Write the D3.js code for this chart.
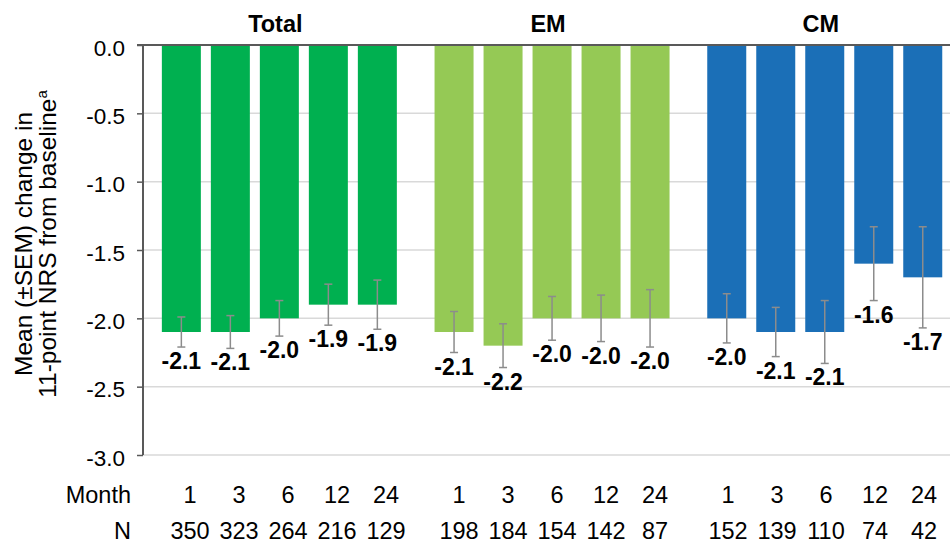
<!DOCTYPE html>
<html>
<head>
<meta charset="utf-8">
<script src="https://cdn.jsdelivr.net/npm/d3@7"></script>
<style>
  html, body { margin: 0; padding: 0; background: #ffffff; }
  svg { display: block; font-family: "Liberation Sans", Arial, sans-serif; }
</style>
</head>
<body>
<svg id="chart" width="950" height="545"></svg>
<script>
// Mean (±SEM) change from baseline in 11-point NRS, by group and month
const groups = ["Total", "EM", "CM"];
const months = ["1", "3", "6", "12", "24"];

const totalMean = [-2.1, -2.1, -2.0, -1.9, -1.9];
const totalSem  = [0.11, 0.12, 0.13, 0.15, 0.18];
const emMean    = [-2.1, -2.2, -2.0, -2.0, -2.0];
const emSem     = [0.15, 0.16, 0.16, 0.17, 0.21];
const cmMean    = [-2.0, -2.1, -2.1, -1.6, -1.7];
const cmSem     = [0.18, 0.18, 0.23, 0.27, 0.37];

const totalN = [350, 323, 264, 216, 129];
const emN    = [198, 184, 154, 142, 87];
const cmN    = [152, 139, 110, 74, 42];

const yTicks = [0, -0.5, -1.0, -1.5, -2.0, -2.5, -3.0];
const groupColors = ["#00b050", "#95c955", "#1b6fb7"];

const series = [
  { group: "Total", mean: totalMean, sem: totalSem, n: totalN },
  { group: "EM",    mean: emMean,    sem: emSem,    n: emN },
  { group: "CM",    mean: cmMean,    sem: cmSem,    n: cmN }
];

const svg = d3.select("#chart");
const axisX = 143, plotTop = 45, plotBottom = 455, plotRight = 950;

const y = d3.scaleLinear().domain([0, -3]).range([plotTop, plotBottom]);

// group bands for the bars
const groupStep = 272.7, groupGap = 37.7;
const x0 = d3.scaleBand().domain(groups)
  .range([axisX, axisX + 3 * groupStep])
  .paddingInner(groupGap / groupStep)
  .paddingOuter(groupGap / groupStep / 2);
const x1 = d3.scaleBand().domain(months)
  .range([0, x0.bandwidth()])
  .paddingInner(10 / 49);

// group bands for the Month / N table under the chart
const tStep = 269, tGap = 34;
const tx0 = d3.scaleBand().domain(groups)
  .range([170.5 - tGap / 2, 170.5 - tGap / 2 + 3 * tStep])
  .paddingInner(tGap / tStep)
  .paddingOuter(tGap / tStep / 2);
const tx1 = d3.scaleBand().domain(months)
  .range([0, tx0.bandwidth()])
  .paddingInner(10 / 49);

// gridlines
svg.append("g").selectAll("line")
  .data(yTicks.filter(d => d !== 0))
  .join("line")
  .attr("x1", axisX).attr("x2", plotRight)
  .attr("y1", d => y(d)).attr("y2", d => y(d))
  .attr("stroke", "#d9d9d9").attr("stroke-width", 1.5);

// y axis
const yAxis = d3.axisLeft(y).tickValues(yTicks).tickFormat(d3.format(".1f")).tickSize(6).tickPadding(12);
const yg = svg.append("g").attr("transform", `translate(${axisX},0)`).call(yAxis);
yg.select(".domain").remove();
yg.selectAll(".tick line").attr("stroke", "#595959").attr("stroke-width", 1.5);
yg.selectAll(".tick text")
  .attr("font-size", 22.5).attr("fill", "#000").attr("dy", "0.45em")
  .text(d => d3.format(".1f")(d).replace("−", "-"));

// bars
const barG = svg.append("g");
series.forEach((s, gi) => {
  const gx = x0(s.group);
  const rows = months.map((m, i) => ({ m, v: s.mean[i], e: s.sem[i] }));
  barG.append("g").selectAll("rect")
    .data(rows).join("rect")
    .attr("x", d => gx + x1(d.m))
    .attr("width", x1.bandwidth())
    .attr("y", y(0))
    .attr("height", d => y(d.v) - y(0))
    .attr("fill", groupColors[gi]);
});

// error bars and value labels
const errG = svg.append("g");
const labG = svg.append("g");
series.forEach(s => {
  const gx = x0(s.group);
  months.forEach((m, i) => {
    const cx = gx + x1(m) + x1.bandwidth() / 2;
    const v = s.mean[i], e = s.sem[i];
    const y1 = y(v + e), y2 = y(v - e);
    const g = errG.append("g").attr("stroke", "#8c8c8c").attr("stroke-width", 1.5);
    g.append("line").attr("x1", cx).attr("x2", cx).attr("y1", y1).attr("y2", y2);
    g.append("line").attr("x1", cx - 4).attr("x2", cx + 4).attr("y1", y1).attr("y2", y1);
    g.append("line").attr("x1", cx - 4).attr("x2", cx + 4).attr("y1", y2).attr("y2", y2);
    labG.append("text")
      .attr("x", cx).attr("y", y2 + 22)
      .attr("text-anchor", "middle")
      .attr("font-size", 23).attr("font-weight", "bold").attr("fill", "#000")
      .text(d3.format(".1f")(v).replace("−", "-"));
  });
});

// zero line and y axis line
svg.append("line")
  .attr("x1", axisX - 6).attr("x2", plotRight)
  .attr("y1", y(0)).attr("y2", y(0))
  .attr("stroke", "#595959").attr("stroke-width", 2);
svg.append("line")
  .attr("x1", axisX).attr("x2", axisX)
  .attr("y1", y(0)).attr("y2", y(-3))
  .attr("stroke", "#595959").attr("stroke-width", 2);

// group titles
svg.append("g").selectAll("text")
  .data(groups).join("text")
  .attr("x", d => x0(d) + x0.bandwidth() / 2 - 4)
  .attr("y", 32)
  .attr("text-anchor", "middle")
  .attr("font-size", 23.5).attr("font-weight", "bold").attr("fill", "#000")
  .text(d => d);

// y axis title
const yt = svg.append("g").attr("transform", "translate(32,244) rotate(-90)")
  .attr("font-size", 24.5).attr("fill", "#000").attr("text-anchor", "middle");
yt.append("text").attr("x", 0).attr("y", 0).text("Mean (±SEM) change in");
const l2 = yt.append("text").attr("x", 0).attr("y", 24);
l2.append("tspan").text("11-point NRS from baseline");
l2.append("tspan").attr("font-size", 15).attr("dy", -9).text("a");

// Month / N table
const table = svg.append("g").attr("font-size", 23.5).attr("fill", "#000");
table.append("text").attr("x", 131).attr("y", 503).attr("text-anchor", "end").text("Month");
table.append("text").attr("x", 131).attr("y", 539).attr("text-anchor", "end").text("N");
series.forEach(s => {
  const gx = tx0(s.group);
  months.forEach((m, i) => {
    const cx = gx + tx1(m) + tx1.bandwidth() / 2;
    table.append("text").attr("x", cx).attr("y", 503).attr("text-anchor", "middle").text(m);
    table.append("text").attr("x", cx).attr("y", 539).attr("text-anchor", "middle").text(s.n[i]);
  });
});
</script>
</body>
</html>
